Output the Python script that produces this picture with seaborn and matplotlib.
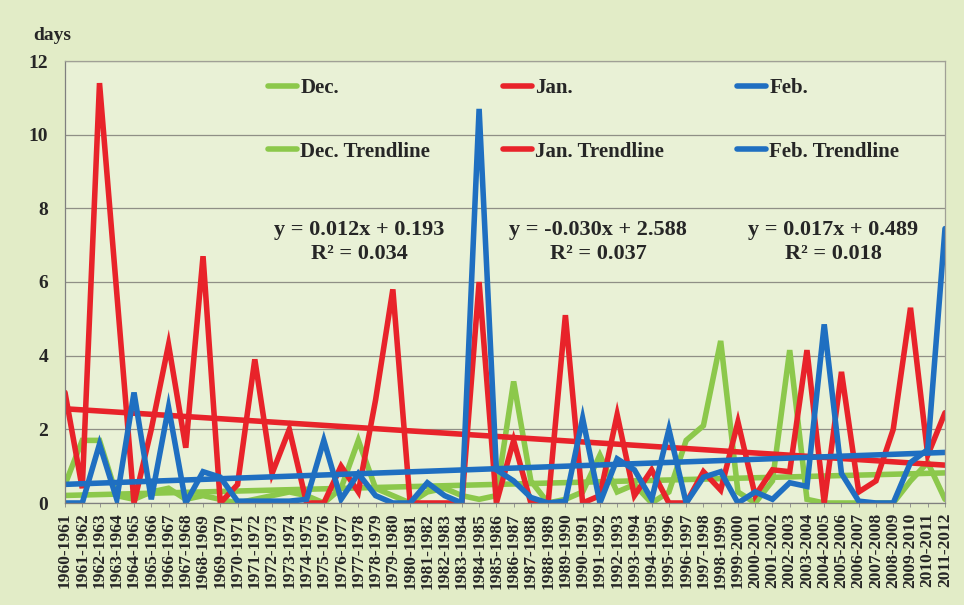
import numpy as np
import pandas as pd
import matplotlib
matplotlib.use("Agg")
import matplotlib.pyplot as plt
import seaborn as sns

seasons = [f"{y}-{y + 1}" for y in range(1960, 2012)]

dec = [0.5, 1.7, 1.7, 0.2, 0.1, 0.3, 0.4, 0.1, 0.2, 0.1,
       0.0, 0.1, 0.2, 0.3, 0.2, 0.0, 0.4, 1.7, 0.4, 0.2,
       0.0, 0.3, 0.4, 0.2, 0.1, 0.2, 3.3, 0.6, 0.0, 0.1,
       0.3, 1.3, 0.3, 0.5, 0.0, 0.3, 1.7, 2.1, 4.4, 0.3,
       0.0, 0.6, 4.15, 0.1, 0.0, 0.0, 0.0, 0.0, 0.0, 0.6,
       1.1, 0.1]
jan = [3.0, 0.4, 11.4, 5.7, 0.0, 2.0, 4.3, 1.5, 6.7, 0.0,
       0.5, 3.9, 0.8, 2.0, 0.0, 0.0, 1.0, 0.3, 2.8, 5.8,
       0.0, 0.0, 0.0, 0.0, 6.0, 0.0, 1.7, 0.0, 0.0, 5.1,
       0.0, 0.2, 2.4, 0.2, 0.9, 0.0, 0.0, 0.85, 0.35, 2.2,
       0.2, 0.9, 0.85, 4.15, 0.0, 3.56, 0.3, 0.6, 2.0, 5.3,
       1.3, 2.45]
feb = [0.0, 0.0, 1.6, 0.1, 3.0, 0.1, 2.6, 0.0, 0.85, 0.7,
       0.05, 0.05, 0.05, 0.05, 0.1, 1.7, 0.1, 0.8, 0.2, 0.0,
       0.0, 0.55, 0.2, 0.0, 10.7, 0.9, 0.6, 0.15, 0.0, 0.05,
       2.3, 0.0, 1.2, 0.9, 0.1, 2.0, 0.0, 0.7, 0.85, 0.0,
       0.3, 0.1, 0.55, 0.45, 4.85, 0.8, 0.05, 0.0, 0.0, 1.1,
       1.45, 7.45]

# linear trend coefficients (slope, intercept, R²), x counted from 1
dec_fit = (0.012, 0.193, 0.034)
jan_fit = (-0.030, 2.588, 0.037)
feb_fit = (0.017, 0.489, 0.018)

colors = {"Dec.": "#8cc84b", "Jan.": "#e8232a", "Feb.": "#1f6fc1"}
serif = ["Liberation Serif", "DejaVu Serif"]

sns.set_style("white")
plt.rcParams["font.family"] = serif
plt.rcParams["font.weight"] = "bold"

W, H = 964, 605
fig = plt.figure(figsize=(W / 100, H / 100), dpi=100)
fig.patch.set_facecolor("#e2ecc7")
ax = fig.add_axes([65 / W, 1 - 503 / H, 880 / W, 442 / H])
ax.set_facecolor("#e9f1d6")

idx = np.arange(len(seasons))
df = pd.DataFrame({"idx": idx, "Dec.": dec, "Jan.": jan, "Feb.": feb})

handles = []
labels = []
for name, fit in (("Dec.", dec_fit), ("Jan.", jan_fit), ("Feb.", feb_fit)):
    sns.lineplot(data=df, x="idx", y=name, ax=ax, color=colors[name],
                 linewidth=4.0, solid_joinstyle="miter", legend=False)
    h_data = ax.lines[-1]
    trend = pd.DataFrame({"idx": idx, "t": fit[0] * (idx + 1) + fit[1]})
    sns.lineplot(data=trend, x="idx", y="t", ax=ax, color=colors[name],
                 linewidth=4.0, legend=False)
    h_trend = ax.lines[-1]
    handles += [h_data, h_trend]
    labels += [name, f"{name} Trendline"]

ax.set_xlim(0, len(seasons) - 1)
ax.set_ylim(0, 12)
ax.set_yticks(range(0, 13, 2))
ax.set_xticks(idx)
ax.set_xticklabels(seasons, rotation=90, fontsize=12.5, fontweight="bold")
ax.tick_params(axis="y", labelsize=14, length=0, pad=12)
ax.tick_params(axis="x", length=3, width=0.6, color="#888888", pad=4,
               direction="out", bottom=True)
ax.set_xlabel("")
ax.set_ylabel("")
ax.grid(axis="y", color="#8f8f86", linewidth=0.9)
ax.grid(axis="x", visible=False)
for side in ("top", "right"):
    ax.spines[side].set_color("#a0a096")
    ax.spines[side].set_linewidth(0.9)
for side in ("left", "bottom"):
    ax.spines[side].set_color("#7f7f7f")
    ax.spines[side].set_linewidth(0.9)

fig.text(33 / W, 1 - 35 / H, "days", fontsize=14, fontweight="bold",
         ha="left", va="center")

leg = fig.legend(handles, labels, ncol=3, frameon=False, loc="upper left",
                 bbox_to_anchor=(268 / W, 1 - 78 / H),
                 prop={"weight": "bold", "size": 15, "family": serif},
                 handlelength=1.4, handletextpad=0.15, columnspacing=3.5,
                 labelspacing=2.1, borderpad=0, borderaxespad=0)

eq_pos = [(359, dec_fit), (598, jan_fit), (833, feb_fit)]
for px, (m, b, r2) in eq_pos:
    sign = "+" if b >= 0 else "-"
    txt = f"y = {m:.3f}x {sign} {abs(b):.3f}\nR² = {r2:.3f}"
    fig.text(px / W, 1 - 242 / H, txt, fontsize=16, fontweight="bold",
             ha="center", va="center", linespacing=1.25)

fig.savefig("out.png", dpi=100, facecolor=fig.get_facecolor())
